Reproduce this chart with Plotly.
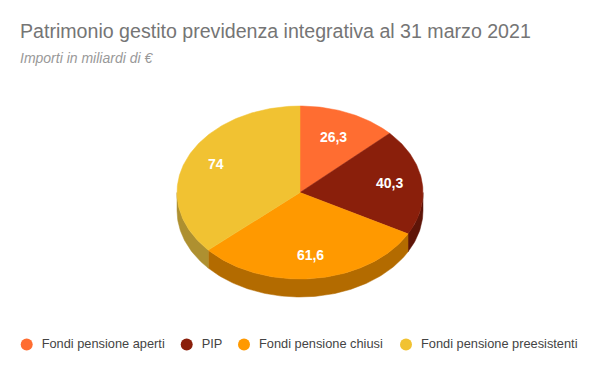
import math
import plotly.graph_objects as go

categories = ["Fondi pensione aperti", "PIP", "Fondi pensione chiusi", "Fondi pensione preesistenti"]
values = [26.3, 40.3, 61.6, 74]
value_labels = ["26,3", "40,3", "61,6", "74"]
top_colors = ["#FF6D31", "#8A1F0B", "#FF9900", "#F1C232"]
side_colors = ["#B34C22", "#5E1508", "#B36B00", "#AE9030"]
label_radius = [0.686, 0.735, 0.745, 0.75]
legend_x = [26.7, 186.7, 244, 406]
LEGEND_Y = 344.6
LEGEND_GAP = 15

CX, CY, RX, RY, DEPTH = 300, 192.5, 123, 86.5, 18
FONT = "Liberation Sans"


def pt(theta, r=1.0, dy=0.0):
    a = math.radians(theta)
    return CX + RX * r * math.sin(a), CY - RY * r * math.cos(a) + dy


def arc(a, b, dy=0.0):
    n = max(2, int(abs(b - a)) + 2)
    return [pt(a + (b - a) * i / (n - 1), 1.0, dy) for i in range(n)]


total = sum(values)
edges = [0.0]
for v in values:
    edges.append(edges[-1] + v / total * 360)

fig = go.Figure()

# side walls (only the part of the rim facing the viewer)
for i in range(len(values)):
    a, b = max(edges[i], 90), min(edges[i + 1], 270)
    if b <= a:
        continue
    pts = arc(a, b) + arc(b, a, DEPTH)
    fig.add_trace(go.Scatter(x=[p[0] for p in pts] + [pts[0][0]], y=[p[1] for p in pts] + [pts[0][1]],
                             mode="lines", fill="toself", fillcolor=side_colors[i],
                             line=dict(width=0.5, color=side_colors[i]), showlegend=False, hoverinfo="skip"))

# top wedges
for i in range(len(values)):
    pts = [(CX, CY)] + arc(edges[i], edges[i + 1]) + [(CX, CY)]
    fig.add_trace(go.Scatter(x=[p[0] for p in pts], y=[p[1] for p in pts], mode="lines", fill="toself",
                             fillcolor=top_colors[i], line=dict(width=0.5, color=top_colors[i]),
                             showlegend=False, name=categories[i]))

# value labels
lx, ly = [], []
for i in range(len(values)):
    x, y = pt((edges[i] + edges[i + 1]) / 2, label_radius[i])
    lx.append(x)
    ly.append(y)
fig.add_trace(go.Scatter(x=lx, y=ly, mode="text", text=value_labels, textposition="middle center",
                         textfont=dict(family=FONT, size=14, color="#FFFFFF", weight="bold"),
                         showlegend=False, hoverinfo="skip"))

# legend row
fig.add_trace(go.Scatter(x=legend_x, y=[LEGEND_Y] * len(legend_x), mode="markers",
                         marker=dict(symbol="circle", size=12, color=top_colors),
                         showlegend=False, hoverinfo="skip"))
fig.add_trace(go.Scatter(x=[v + LEGEND_GAP for v in legend_x], y=[LEGEND_Y] * len(legend_x), mode="text",
                         text=categories, textposition="middle right",
                         textfont=dict(family=FONT, size=12.8, color="#444444"),
                         showlegend=False, hoverinfo="skip"))

fig.update_layout(
    width=600, height=371, autosize=False,
    margin=dict(l=0, r=0, t=0, b=0),
    paper_bgcolor="white", plot_bgcolor="white",
    xaxis=dict(range=[0, 600], visible=False, fixedrange=True),
    yaxis=dict(range=[371, 0], visible=False, fixedrange=True),
    showlegend=False,
    annotations=[
        dict(text="Patrimonio gestito previdenza integrativa al 31 marzo 2021", xref="paper", yref="paper",
             x=17.7 / 600, y=1 - 31 / 371, xanchor="left", yanchor="middle", showarrow=False,
             font=dict(family=FONT, size=19.6, color="#757575")),
        dict(text="<i>Importi in miliardi di €</i>", xref="paper", yref="paper",
             x=18 / 600, y=1 - 58 / 371, xanchor="left", yanchor="middle", showarrow=False,
             font=dict(family=FONT, size=14, color="#999999")),
    ],
)

fig.write_html("out.html", config={"displayModeBar": False},
               post_script="document.body.style.margin='0';")
